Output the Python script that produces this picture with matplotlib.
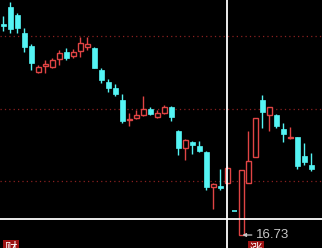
import numpy as np
import matplotlib
matplotlib.use("Agg")
import matplotlib.pyplot as plt
from matplotlib.patches import Rectangle

# daily candles, oldest first
opens = [18.84, 19.01, 18.93, 18.75, 18.62, 18.36, 18.42, 18.41, 18.49, 18.56,
         18.52, 18.57, 18.61, 18.60, 18.38, 18.26, 18.20, 18.08, 17.88, 17.90,
         17.93, 17.99, 17.91, 17.95, 18.01, 17.77, 17.60, 17.66, 17.62, 17.56,
         17.21, 17.22, 17.25, 16.97, 16.73, 17.25, 17.51, 18.08, 17.93, 17.93,
         17.79, 17.70, 17.71, 17.52, 17.43]
highs = [18.92, 19.06, 18.95, 18.80, 18.64, 18.43, 18.48, 18.50, 18.58, 18.60,
         18.59, 18.71, 18.71, 18.61, 18.40, 18.29, 18.24, 18.14, 17.95, 17.98,
         18.12, 18.01, 17.98, 18.03, 18.02, 17.78, 17.69, 17.67, 17.67, 17.57,
         17.25, 17.39, 17.42, 16.97, 17.38, 17.77, 17.90, 18.13, 18.01, 17.94,
         17.85, 17.81, 17.71, 17.65, 17.55]
lows = [18.77, 18.75, 18.75, 18.56, 18.38, 18.35, 18.35, 18.40, 18.43, 18.48,
        18.50, 18.51, 18.58, 18.40, 18.25, 18.16, 18.12, 17.85, 17.82, 17.89,
        17.92, 17.93, 17.90, 17.94, 17.87, 17.53, 17.48, 17.54, 17.56, 17.18,
        16.99, 17.18, 17.24, 16.97, 16.73, 17.25, 17.51, 17.80, 17.77, 17.80,
        17.66, 17.69, 17.39, 17.43, 17.37]
closes = [18.82, 18.79, 18.80, 18.61, 18.45, 18.41, 18.44, 18.48, 18.55, 18.50,
          18.56, 18.65, 18.64, 18.40, 18.28, 18.20, 18.14, 17.87, 17.89, 17.93,
          17.99, 17.94, 17.95, 18.01, 17.91, 17.60, 17.68, 17.63, 17.57, 17.21,
          17.24, 17.20, 17.40, 16.97, 17.38, 17.47, 17.90, 17.96, 18.01, 17.82,
          17.74, 17.71, 17.42, 17.46, 17.39]

grid_levels = [18.717, 17.99, 17.27]
cross_price = 16.89
cross_day = 32
low_label = "16.73"
low_day = 34

up_color = "#e04444"
down_color = "#54f4f4"
bw = 0.72

fig = plt.figure(figsize=(3.22, 2.48), dpi=100, facecolor="black")
ax = fig.add_axes([0, 0, 1, 1])
ax.set_facecolor("black")
ax.set_xlim(-0.47, 45.53)
ax.set_ylim(16.60, 19.08)
ax.axis("off")

for g in grid_levels:
    ax.axhline(g, color="#8a2020", lw=0.9, ls=(0, (1, 2.5)), zorder=1)

for i in range(len(opens)):
    o, h, l, c = opens[i], highs[i], lows[i], closes[i]
    top = max(o, c)
    bot = min(o, c)
    if c > o:
        ax.vlines(i, top, h, color=up_color, lw=1, zorder=2)
        ax.vlines(i, l, bot, color=up_color, lw=1, zorder=2)
        ax.add_patch(Rectangle((i - bw / 2, bot), bw, top - bot,
                               facecolor="black", edgecolor=up_color,
                               lw=1, zorder=3))
    else:
        ax.vlines(i, l, h, color=down_color, lw=1, zorder=2)
        if top - bot < 0.012:
            ax.hlines(top, i - bw / 2, i + bw / 2, color=down_color, lw=1.2, zorder=3)
        else:
            ax.add_patch(Rectangle((i - bw / 2, bot), bw, top - bot,
                                   facecolor=down_color, edgecolor=down_color,
                                   lw=0.5, zorder=3))

# crosshair
ax.axhline(cross_price, color="white", lw=1.3, zorder=4)
ax.axvline(cross_day, color="white", lw=1.3, zorder=4)

ax.annotate(low_label, xy=(low_day + 0.15, lows[low_day]),
            xytext=(low_day + 2.1, lows[low_day]),
            color="#c8c8c8", fontsize=9.5, family="Liberation Sans",
            va="center", ha="left",
            arrowprops=dict(arrowstyle="-|>", color="#c8c8c8", lw=0.9,
                            mutation_scale=5, shrinkA=1, shrinkB=0),
            zorder=5)

cjk = ["Noto Sans CJK SC", "DejaVu Sans"]
ax.text(0.034, 0.025, "财", transform=ax.transAxes, family=cjk,
        color="white", fontsize=9, ha="center", va="top",
        bbox=dict(boxstyle="square,pad=0.12", fc="#9c1212", ec="none"), zorder=6)
ax.text(0.795, 0.021, "涨", transform=ax.transAxes, family=cjk,
        color="white", fontsize=9, ha="center", va="top",
        bbox=dict(boxstyle="square,pad=0.12", fc="#9c1212", ec="none"), zorder=6)

fig.savefig("out.png", dpi=100, facecolor="black")
